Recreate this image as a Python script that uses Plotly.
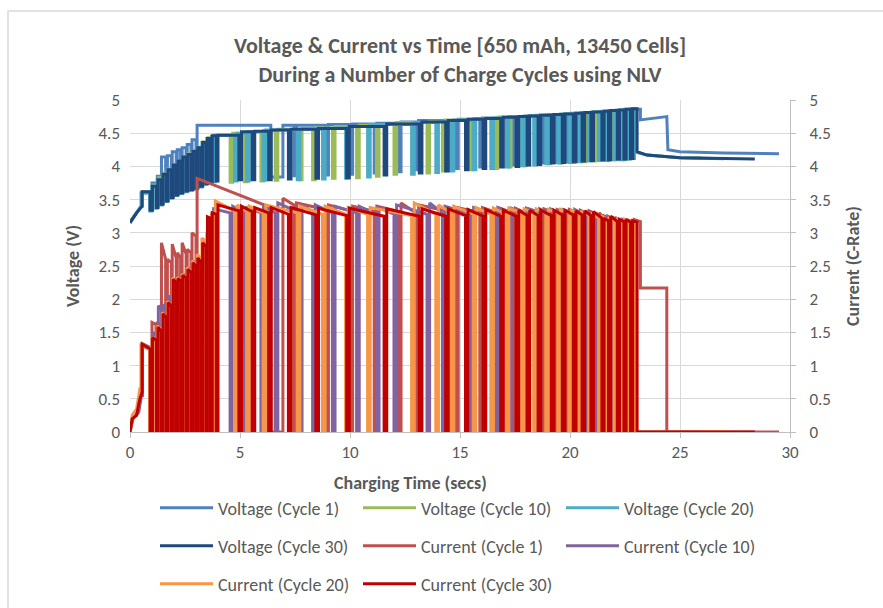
import plotly.graph_objects as go

# ---------------- data ----------------
# Each charge cycle: pulse on-times, off-times, current at pulse start / end,
# voltage level during pulse, voltage level during the following rest.

# Cycle 1
c1_pre_t = [0, 0.15, 0.4, 0.5]
c1_pre_i = [0, 0.22, 0.3, 0.55]
c1_pre_vt = [0, 0.3, 0.5]
c1_pre_v = [3.17, 3.32, 3.4]
c1_on = [0.52, 1.0, 1.24, 1.43, 1.70, 1.92, 2.15, 2.37, 2.6, 2.82, 3.05, 6.95, 7.57, 9.02, 10.12, 11.22,
         12.32, 13.12, 14.92, 16.02, 16.82, 17.52, 18.12, 18.82, 19.42, 19.97, 20.47, 20.87, 21.32, 21.72,
         22.12, 22.52, 22.92]
c1_off = [0.9, 1.18, 1.38, 1.62, 1.88, 2.1, 2.3, 2.55, 2.77, 3.0, 6.4, 7.45, 8.9, 10.0, 11.1, 12.2,
          13.0, 14.8, 15.9, 16.7, 17.4, 18.0, 18.7, 19.3, 19.85, 20.35, 20.75, 21.2, 21.6, 22.0,
          22.4, 22.8, 23.2]
c1_i_start = [1.3, 1.65, 1.66, 2.85, 2.6, 2.83, 2.7, 2.85, 2.75, 3.0, 3.82, 3.52, 3.45, 3.42, 3.40, 3.40,
              3.45, 3.42, 3.38, 3.38, 3.37, 3.37, 3.36, 3.36, 3.35, 3.35, 3.34, 3.33, 3.30, 3.25,
              3.22, 3.20, 3.20]
c1_i_end = [1.25, 1.62, 1.62, 2.6, 2.55, 2.62, 2.62, 2.68, 2.7, 2.95, 3.38, 3.42, 3.35, 3.33, 3.32, 3.32,
            3.30, 3.30, 3.30, 3.30, 3.30, 3.30, 3.30, 3.30, 3.30, 3.30, 3.30, 3.28, 3.22, 3.20,
            3.18, 3.18, 3.17]
c1_v_top = [3.6, 3.75, 3.85, 4.14, 4.16, 4.22, 4.25, 4.28, 4.33, 4.40, 4.62, 4.62, 4.62, 4.63, 4.64, 4.65,
            4.67, 4.69, 4.71, 4.73, 4.74, 4.75, 4.76, 4.77, 4.78, 4.79, 4.80, 4.81, 4.82, 4.83,
            4.84, 4.85, 4.86]
c1_v_rest = [3.36, 3.42, 3.5, 3.62, 3.66, 3.7, 3.73, 3.76, 3.79, 3.82, 3.84, 3.86, 3.87, 3.88, 3.9, 3.92,
             3.95, 3.97, 3.99, 4.01, 4.02, 4.04, 4.05, 4.06, 4.07, 4.08, 4.09, 4.1, 4.1, 4.11,
             4.11, 4.12, 4.70]
c1_i_final_rest = 2.17
c1_tail_t = [24.4, 24.4, 29.5]
c1_tail_i = [2.17, 0, 0]
c1_tail_vt = [24.4, 24.45, 25.0, 27.0, 29.5]
c1_tail_v = [4.75, 4.25, 4.22, 4.20, 4.19]

# Cycle 10
c10_pre_t = [0, 0.12, 0.35, 0.5]
c10_pre_i = [0, 0.2, 0.28, 0.55]
c10_pre_vt = [0, 0.3, 0.52]
c10_pre_v = [3.16, 3.3, 3.4]
c10_on = [0.57, 1.04, 1.29, 1.52, 1.75, 1.98, 2.2, 2.42, 2.65, 2.88, 3.1, 3.32, 3.54, 3.8, 4.67, 5.32,
          6.07, 6.72, 7.82, 8.42, 9.32, 10.42, 11.32, 12.12, 13.62, 14.32, 15.62, 16.72, 17.32, 18.02,
          18.62, 19.12, 19.67, 20.22, 20.72, 21.17, 21.57, 22.02, 22.37, 22.72]
c10_off = [0.94, 1.22, 1.44, 1.67, 1.9, 2.12, 2.34, 2.57, 2.8, 3.02, 3.24, 3.47, 3.7, 4.55, 5.2, 5.95,
           6.6, 7.7, 8.3, 9.2, 10.3, 11.2, 12.0, 13.5, 14.2, 15.5, 16.6, 17.2, 17.9, 18.5,
           19.0, 19.55, 20.1, 20.6, 21.05, 21.45, 21.9, 22.25, 22.6, 22.95]
c10_i_start = [1.33, 1.5, 1.9, 1.92, 2.05, 2.25, 2.32, 2.38, 2.47, 2.57, 2.65, 2.88, 3.2, 3.36, 3.4, 3.38,
               3.4, 3.45, 3.42, 3.42, 3.4, 3.4, 3.38, 3.42, 3.45, 3.4, 3.38, 3.38, 3.37, 3.37,
               3.36, 3.36, 3.35, 3.35, 3.33, 3.3, 3.25, 3.22, 3.2, 3.18]
c10_i_end = [1.27, 1.45, 1.85, 1.88, 2.0, 2.2, 2.28, 2.33, 2.42, 2.52, 2.6, 2.82, 3.18, 3.3, 3.3, 3.3,
             3.3, 3.3, 3.32, 3.3, 3.3, 3.28, 3.28, 3.28, 3.3, 3.28, 3.28, 3.3, 3.3, 3.3,
             3.3, 3.3, 3.3, 3.28, 3.25, 3.22, 3.2, 3.18, 3.17, 3.16]
c10_v_top = [3.62, 3.72, 3.83, 3.9, 3.96, 4.03, 4.09, 4.14, 4.19, 4.24, 4.29, 4.37, 4.43, 4.47, 4.5, 4.52,
             4.54, 4.56, 4.57, 4.58, 4.6, 4.62, 4.63, 4.66, 4.68, 4.7, 4.72, 4.74, 4.75, 4.76,
             4.77, 4.78, 4.79, 4.8, 4.81, 4.82, 4.83, 4.84, 4.85, 4.86]
c10_v_rest = [3.35, 3.39, 3.44, 3.49, 3.54, 3.58, 3.61, 3.64, 3.66, 3.68, 3.71, 3.75, 3.77, 3.76, 3.77, 3.78,
              3.79, 3.8, 3.8, 3.82, 3.83, 3.85, 3.88, 3.9, 3.93, 3.95, 3.97, 3.99, 4.01, 4.03,
              4.04, 4.05, 4.06, 4.07, 4.08, 4.09, 4.1, 4.1, 4.11, 4.22]
c10_tail_t = [26.0]
c10_tail_i = [0]
c10_tail_vt = [23.5, 25.0, 26.0]
c10_tail_v = [4.17, 4.13, 4.125]

# Cycle 20
c20_pre_t = [0, 0.1, 0.3, 0.45]
c20_pre_i = [0, 0.25, 0.35, 0.65]
c20_pre_vt = [0, 0.3, 0.5]
c20_pre_v = [3.15, 3.3, 3.4]
c20_on = [0.5, 0.99, 1.24, 1.47, 1.7, 1.93, 2.15, 2.37, 2.6, 2.83, 3.05, 3.27, 3.49, 3.7, 3.88, 4.87,
          5.42, 6.17, 7.72, 8.87, 9.92, 10.92, 12.92, 14.02, 14.72, 15.72, 16.52, 17.22, 17.92, 18.47,
          19.02, 19.57, 20.07, 20.52, 20.97, 21.42, 21.77, 22.12, 22.47, 22.77]
c20_off = [0.9, 1.17, 1.39, 1.62, 1.85, 2.07, 2.29, 2.52, 2.75, 2.97, 3.19, 3.42, 3.62, 3.77, 4.75, 5.3,
           6.05, 7.6, 8.75, 9.8, 10.8, 12.8, 13.9, 14.6, 15.6, 16.4, 17.1, 17.8, 18.35, 18.9,
           19.45, 19.95, 20.4, 20.85, 21.3, 21.65, 22.0, 22.35, 22.65, 22.95]
c20_i_start = [1.3, 1.42, 1.6, 1.8, 1.97, 2.32, 2.33, 2.38, 2.48, 2.58, 2.68, 2.92, 3.0, 3.3, 3.48, 3.42,
               3.4, 3.42, 3.4, 3.4, 3.38, 3.38, 3.45, 3.42, 3.4, 3.38, 3.37, 3.37, 3.36, 3.36,
               3.35, 3.35, 3.34, 3.33, 3.3, 3.26, 3.24, 3.22, 3.2, 3.18]
c20_i_end = [1.24, 1.38, 1.55, 1.74, 1.92, 2.26, 2.28, 2.33, 2.42, 2.52, 2.62, 2.88, 2.95, 3.28, 3.33, 3.32,
             3.3, 3.3, 3.28, 3.28, 3.28, 3.26, 3.28, 3.3, 3.28, 3.28, 3.28, 3.3, 3.3, 3.3,
             3.3, 3.3, 3.28, 3.26, 3.22, 3.2, 3.18, 3.17, 3.17, 3.16]
c20_v_top = [3.6, 3.7, 3.8, 3.88, 3.95, 4.02, 4.08, 4.13, 4.18, 4.23, 4.28, 4.36, 4.42, 4.45, 4.47, 4.5,
             4.52, 4.55, 4.56, 4.58, 4.6, 4.63, 4.66, 4.68, 4.7, 4.72, 4.73, 4.75, 4.76, 4.77,
             4.78, 4.79, 4.8, 4.81, 4.82, 4.83, 4.84, 4.85, 4.86, 4.87]
c20_v_rest = [3.33, 3.37, 3.42, 3.47, 3.52, 3.56, 3.59, 3.62, 3.64, 3.66, 3.69, 3.73, 3.76, 3.77, 3.78, 3.78,
              3.79, 3.8, 3.81, 3.82, 3.84, 3.88, 3.91, 3.93, 3.95, 3.97, 3.99, 4.01, 4.02, 4.04,
              4.05, 4.06, 4.07, 4.08, 4.09, 4.09, 4.1, 4.1, 4.11, 4.22]
c20_tail_t = [27.0]
c20_tail_i = [0]
c20_tail_vt = [23.5, 25.0, 27.0]
c20_tail_v = [4.17, 4.13, 4.115]

# Cycle 30
c30_pre_t = [0, 0.1, 0.3, 0.45, 0.55]
c30_pre_i = [0, 0.2, 0.25, 0.5, 0.6]
c30_pre_vt = [0, 0.3, 0.55]
c30_pre_v = [3.15, 3.3, 3.4]
c30_on = [0.55, 1.02, 1.27, 1.5, 1.73, 1.96, 2.18, 2.4, 2.63, 2.86, 3.08, 3.3, 3.52, 3.74, 4.0, 5.07,
          5.67, 6.42, 7.32, 8.57, 9.97, 11.67, 13.27, 14.47, 15.37, 16.17, 16.97, 17.67, 18.17, 18.67,
          19.27, 19.77, 20.27, 20.67, 21.07, 21.55, 21.85, 22.25, 22.55, 22.85]
c30_off = [0.92, 1.2, 1.42, 1.65, 1.88, 2.1, 2.32, 2.55, 2.78, 3.0, 3.22, 3.45, 3.66, 3.92, 4.95, 5.55,
           6.3, 7.2, 8.45, 9.85, 11.55, 13.15, 14.35, 15.25, 16.05, 16.85, 17.55, 18.05, 18.55, 19.15,
           19.65, 20.15, 20.55, 20.95, 21.45, 21.75, 22.15, 22.45, 22.75, 23.05]
c30_i_start = [1.32, 1.42, 1.58, 1.78, 1.95, 2.3, 2.31, 2.36, 2.45, 2.55, 2.62, 2.85, 3.24, 3.3, 3.42, 3.4,
               3.38, 3.38, 3.38, 3.37, 3.37, 3.36, 3.36, 3.36, 3.35, 3.35, 3.34, 3.34, 3.34, 3.34,
               3.34, 3.34, 3.33, 3.33, 3.32, 3.22, 3.25, 3.2, 3.2, 3.18]
c30_i_end = [1.25, 1.38, 1.52, 1.72, 1.9, 2.25, 2.27, 2.32, 2.4, 2.5, 2.56, 2.8, 3.22, 3.28, 3.33, 3.32,
             3.3, 3.28, 3.27, 3.26, 3.25, 3.25, 3.25, 3.26, 3.25, 3.25, 3.25, 3.26, 3.26, 3.26,
             3.27, 3.27, 3.27, 3.26, 3.22, 3.18, 3.17, 3.17, 3.16, 3.16]
c30_v_top = [3.62, 3.7, 3.8, 3.88, 3.95, 4.02, 4.08, 4.14, 4.18, 4.23, 4.28, 4.36, 4.42, 4.46, 4.47, 4.52,
             4.53, 4.55, 4.56, 4.57, 4.6, 4.64, 4.67, 4.69, 4.71, 4.72, 4.74, 4.75, 4.76, 4.77,
             4.78, 4.79, 4.8, 4.81, 4.82, 4.83, 4.84, 4.85, 4.86, 4.87]
c30_v_rest = [3.34, 3.38, 3.43, 3.48, 3.53, 3.57, 3.6, 3.63, 3.65, 3.67, 3.7, 3.74, 3.77, 3.78, 3.8, 3.8,
              3.8, 3.81, 3.82, 3.83, 3.87, 3.9, 3.93, 3.95, 3.97, 3.99, 4.0, 4.02, 4.03, 4.05,
              4.06, 4.07, 4.08, 4.09, 4.1, 4.1, 4.11, 4.11, 4.12, 4.22]
c30_tail_t = [28.4]
c30_tail_i = [0]
c30_tail_vt = [23.5, 25.0, 28.4]
c30_tail_v = [4.17, 4.13, 4.11]

x_ticks = [0, 5, 10, 15, 20, 25, 30]
y_ticks = [0, 0.5, 1, 1.5, 2, 2.5, 3, 3.5, 4, 4.5, 5]


def pulse_path(pre_t, pre_y, on, off, y_start, y_end, y_rest, tail_t, tail_y):
    """Turn a pulse table into the polyline points the line trace needs."""
    xs, ys = list(pre_t), list(pre_y)
    for k in range(len(on)):
        xs += [on[k], on[k], off[k], off[k]]
        ys += [ys[-1], y_start[k], y_end[k], y_rest[k]]
    return xs + list(tail_t), ys + list(tail_y)


def rest_current(n, final=0.0):
    return [0.0] * (n - 1) + [final]


cycles = {
    1: dict(pre_t=c1_pre_t, pre_i=c1_pre_i, pre_vt=c1_pre_vt, pre_v=c1_pre_v, on=c1_on, off=c1_off,
            i_s=c1_i_start, i_e=c1_i_end, v_top=c1_v_top, v_rest=c1_v_rest, i_final=c1_i_final_rest,
            tail_t=c1_tail_t, tail_i=c1_tail_i, tail_vt=c1_tail_vt, tail_v=c1_tail_v),
    10: dict(pre_t=c10_pre_t, pre_i=c10_pre_i, pre_vt=c10_pre_vt, pre_v=c10_pre_v, on=c10_on, off=c10_off,
             i_s=c10_i_start, i_e=c10_i_end, v_top=c10_v_top, v_rest=c10_v_rest, i_final=0.0,
             tail_t=c10_tail_t, tail_i=c10_tail_i, tail_vt=c10_tail_vt, tail_v=c10_tail_v),
    20: dict(pre_t=c20_pre_t, pre_i=c20_pre_i, pre_vt=c20_pre_vt, pre_v=c20_pre_v, on=c20_on, off=c20_off,
             i_s=c20_i_start, i_e=c20_i_end, v_top=c20_v_top, v_rest=c20_v_rest, i_final=0.0,
             tail_t=c20_tail_t, tail_i=c20_tail_i, tail_vt=c20_tail_vt, tail_v=c20_tail_v),
    30: dict(pre_t=c30_pre_t, pre_i=c30_pre_i, pre_vt=c30_pre_vt, pre_v=c30_pre_v, on=c30_on, off=c30_off,
             i_s=c30_i_start, i_e=c30_i_end, v_top=c30_v_top, v_rest=c30_v_rest, i_final=0.0,
             tail_t=c30_tail_t, tail_i=c30_tail_i, tail_vt=c30_tail_vt, tail_v=c30_tail_v),
}

v_colors = {1: "#4F81BD", 10: "#9BBB59", 20: "#4BACC6", 30: "#1F497D"}
i_colors = {1: "#C0504D", 10: "#8064A2", 20: "#F79646", 30: "#C00000"}
legend_of = {("V", 1): "legend", ("V", 10): "legend", ("V", 20): "legend",
             ("V", 30): "legend2", ("I", 1): "legend2", ("I", 10): "legend2",
             ("I", 20): "legend3", ("I", 30): "legend3"}

fig = go.Figure()
FONT = "Carlito, Calibri, Lato, sans-serif"
GREY = "#595959"

for c in (1, 10, 20, 30):
    d = cycles[c]
    vx, vy = pulse_path(d["pre_vt"], d["pre_v"], d["on"], d["off"], d["v_top"], d["v_top"],
                        d["v_rest"], d["tail_vt"], d["tail_v"])
    fig.add_trace(go.Scatter(x=vx, y=vy, mode="lines", name=f"Voltage (Cycle {c})",
                             line=dict(color=v_colors[c], width=3), yaxis="y",
                             legend=legend_of[("V", c)]))
for c in (1, 10, 20, 30):
    d = cycles[c]
    ix, iy = pulse_path(d["pre_t"], d["pre_i"], d["on"], d["off"], d["i_s"], d["i_e"],
                        rest_current(len(d["on"]), d["i_final"]), d["tail_t"], d["tail_i"])
    fig.add_trace(go.Scatter(x=ix, y=iy, mode="lines", name=f"Current (Cycle {c})",
                             line=dict(color=i_colors[c], width=3), yaxis="y2",
                             legend=legend_of[("I", c)]))

W, H = 883, 608
L, R, T, B = 130, 93, 100, 176

axis_common = dict(range=[0, 5], tickvals=y_ticks, ticktext=[f"{v:g}" for v in y_ticks],
                   tickfont=dict(family=FONT, size=17, color=GREY), zeroline=False,
                   fixedrange=True, automargin=False)

legend_common = dict(orientation="h", xref="container", yref="container", xanchor="left",
                     yanchor="middle", x=155 / W, font=dict(family=FONT, size=18, color=GREY),
                     bgcolor="rgba(0,0,0,0)", entrywidth=135, entrywidthmode="pixels",
                     itemwidth=53, itemclick=False, itemdoubleclick=False)

fig.update_layout(
    width=W, height=H, margin=dict(l=L, r=R, t=T, b=B),
    paper_bgcolor="white", plot_bgcolor="white",
    title=dict(text="Voltage & Current vs Time [650 mAh, 13450 Cells]<br>During a Number of Charge Cycles using NLV",
               x=(L + (W - R - L) / 2) / W, xanchor="center", y=1 - 53 / H, yanchor="middle",
               font=dict(family=FONT, size=22, color=GREY, weight="bold")),
    xaxis=dict(range=[0, 30], tickvals=x_ticks, showgrid=True, gridcolor="#d9d9d9", gridwidth=1,
               showline=True, linecolor="#bfbfbf", linewidth=1, ticks="outside", ticklen=5,
               tickcolor="#bfbfbf", zeroline=False, fixedrange=True, automargin=False,
               tickfont=dict(family=FONT, size=17, color=GREY)),
    yaxis=dict(**axis_common, showgrid=True, gridcolor="#d9d9d9", gridwidth=1,
               showline=False, ticks="", ticklabelstandoff=9,
               title=dict(text="<b>Voltage (V)</b>", standoff=14,
                          font=dict(family=FONT, size=18, color=GREY))),
    yaxis2=dict(**axis_common, overlaying="y", side="right", showgrid=False,
                showline=True, linecolor="#bfbfbf", linewidth=1, ticks="outside", ticklen=5,
                tickcolor="#bfbfbf", ticklabelstandoff=10,
                title=dict(text="<b>Current (C-Rate)</b>", standoff=16,
                           font=dict(family=FONT, size=18, color=GREY))),
    legend=dict(**legend_common, y=1 - 508 / H),
    legend2=dict(**legend_common, y=1 - 546 / H),
    legend3=dict(**legend_common, y=1 - 584 / H),
    annotations=[dict(text="<b>Charging Time (secs)</b>", xref="paper", yref="paper",
                      x=(410 - L) / (W - L - R), y=(H - B - 483) / (H - T - B),
                      xanchor="center", yanchor="middle", showarrow=False,
                      font=dict(family=FONT, size=18, color=GREY))],
    shapes=[dict(type="rect", xref="paper", yref="paper",
                 x0=(8 - L) / (W - L - R), x1=(W + 20 - L) / (W - L - R),
                 y0=(H - B - (H + 20)) / (H - T - B), y1=(H - B - 11) / (H - T - B),
                 line=dict(color="#d9d9d9", width=1.5), fillcolor="rgba(0,0,0,0)", layer="below")],
)

fig.write_html("out.html", config={"displayModeBar": False},
               post_script="document.body.style.margin='0px';")
